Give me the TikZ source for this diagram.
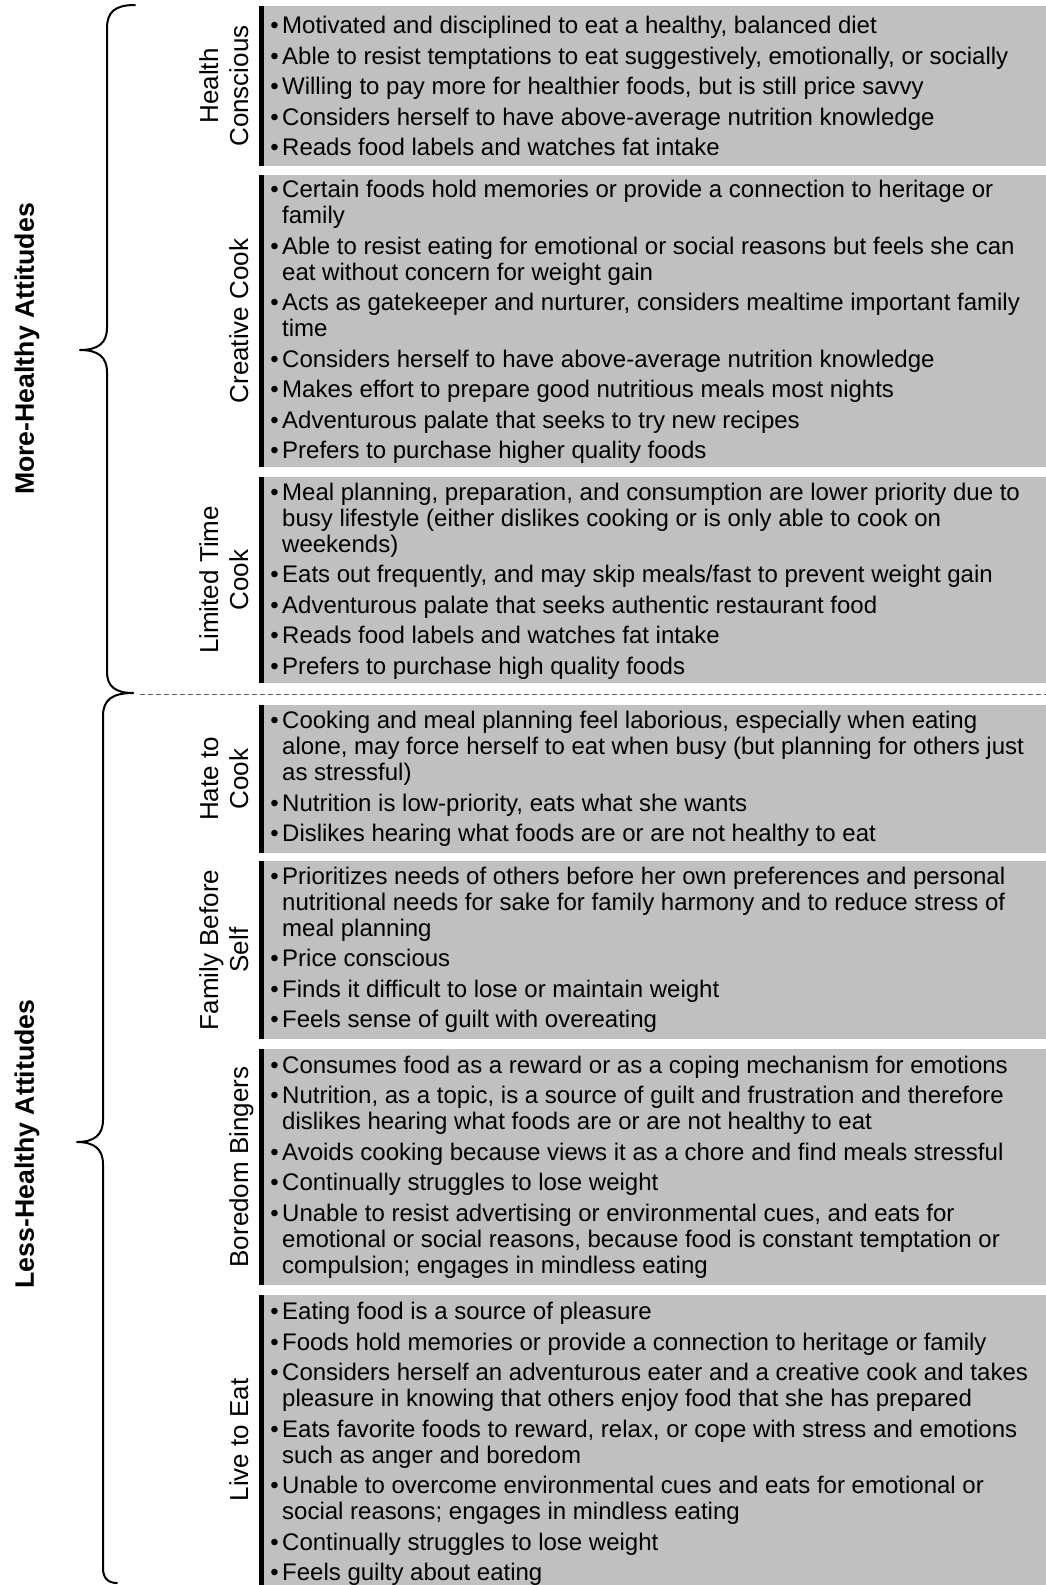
\documentclass[tikz,border=0pt]{standalone}
\usepackage{fontspec}
\setmainfont{Liberation Sans}
\definecolor{cellgray}{RGB}{192,192,192}
\definecolor{dashgray}{RGB}{90,90,90}
\newcommand\bu{\makebox[0pt][r]{\textbullet\hspace{3.5pt}}}
\newcommand\twol[2]{\begin{tabular}[b]{@{}c@{}}#1\\#2\end{tabular}}
\tikzset{
  cell/.style={fill=cellgray},
  bar/.style={fill=black},
  body/.style={anchor=west, inner sep=0pt, align=left, font=\fontsize{24}{26}\selectfont},
  side/.style={rotate=90, anchor=base, inner sep=0pt, font=\fontsize{26}{30}\selectfont},
  group/.style={rotate=90, anchor=base, inner sep=0pt, font=\bfseries\fontsize{26.67}{30}\selectfont},
  brace/.style={line width=2pt, line cap=round, line join=round},
  divider/.style={dashgray, line width=1pt, dash pattern=on 5pt off 3pt}
}
\begin{document}
\begin{tikzpicture}[x=1pt,y=-1pt]
\useasboundingbox (0,0) rectangle (1046,1585);
% rows: gray cells with black left bars
\foreach \t/\b in {6/166,175/467,477/683,705/853,861/1039,1049/1285,1295/1585}{
  \fill[cell] (263.5,\t) rectangle (1046,\b);
  \fill[bar] (258.5,\t) rectangle (263.5,\b);
}
% side labels
\node[side] (lhc) at (248,86) {\twol{Health}{Conscious}};
\node[side] (lcc) at (248,321) {Creative Cook};
\node[side] (ltc) at (248,580) {\twol{Limited Time}{Cook}};
\node[side] (lhk) at (248,779) {\twol{Hate to}{Cook}};
\node[side] (lfs) at (248,950) {\twol{Family Before}{Self}};
\node[side] (lbb) at (248,1167) {Boredom Bingers};
\node[side] (lle) at (248,1440) {Live to Eat};
% body texts
\node[body] (thc) at (282,86) {%
\bu Motivated and disciplined to eat a healthy, balanced diet\\[4.5pt]
\bu Able to resist temptations to eat suggestively, emotionally, or socially\\[4.5pt]
\bu Willing to pay more for healthier foods, but is still price savvy\\[4.5pt]
\bu Considers herself to have above-average nutrition knowledge\\[4.5pt]
\bu Reads food labels and watches fat intake};
\node[body] (tcc) at (282,322) {%
\bu Certain foods hold memories or provide a connection to heritage or\\
family\\[4.5pt]
\bu Able to resist eating for emotional or social reasons but feels she can\\
eat without concern for weight gain\\[4.5pt]
\bu Acts as gatekeeper and nurturer, considers mealtime important family\\
time\\[4.5pt]
\bu Considers herself to have above-average nutrition knowledge\\[4.5pt]
\bu Makes effort to prepare good nutritious meals most nights\\[4.5pt]
\bu Adventurous palate that seeks to try new recipes\\[4.5pt]
\bu Prefers to purchase higher quality foods};
\node[body] (ttc) at (282,581) {%
\bu Meal planning, preparation, and consumption are lower priority due to\\
busy lifestyle (either dislikes cooking or is only able to cook on\\
weekends)\\[4.5pt]
\bu Eats out frequently, and may skip meals/fast to prevent weight gain\\[4.5pt]
\bu Adventurous palate that seeks authentic restaurant food\\[4.5pt]
\bu Reads food labels and watches fat intake\\[4.5pt]
\bu Prefers to purchase high quality foods};
\node[body] (thk) at (282,779) {%
\bu Cooking and meal planning feel laborious, especially when eating\\
alone, may force herself to eat when busy (but planning for others just\\
as stressful)\\[4.5pt]
\bu Nutrition is low-priority, eats what she wants\\[4.5pt]
\bu Dislikes hearing what foods are or are not healthy to eat};
\node[body] (tfs) at (282,950) {%
\bu Prioritizes needs of others before her own preferences and personal\\
nutritional needs for sake for family harmony and to reduce stress of\\
meal planning\\[4.5pt]
\bu Price conscious\\[4.5pt]
\bu Finds it difficult to lose or maintain weight\\[4.5pt]
\bu Feels sense of guilt with overeating};
\node[body] (tbb) at (282,1167) {%
\bu Consumes food as a reward or as a coping mechanism for emotions\\[4.5pt]
\bu Nutrition, as a topic, is a source of guilt and frustration and therefore\\
dislikes hearing what foods are or are not healthy to eat\\[4.5pt]
\bu Avoids cooking because views it as a chore and find meals stressful\\[4.5pt]
\bu Continually struggles to lose weight\\[4.5pt]
\bu Unable to resist advertising or environmental cues, and eats for\\
emotional or social reasons, because food is constant temptation or\\
compulsion; engages in mindless eating};
\node[body] (tle) at (282,1444) {%
\bu Eating food is a source of pleasure\\[4.5pt]
\bu Foods hold memories or provide a connection to heritage or family\\[4.5pt]
\bu Considers herself an adventurous eater and a creative cook and takes\\
pleasure in knowing that others enjoy food that she has prepared\\[4.5pt]
\bu Eats favorite foods to reward, relax, or cope with stress and emotions\\
such as anger and boredom\\[4.5pt]
\bu Unable to overcome environmental cues and eats for emotional or\\
social reasons; engages in mindless eating\\[4.5pt]
\bu Continually struggles to lose weight\\[4.5pt]
\bu Feels guilty about eating};
% group labels
\node[group] (gmore) at (34,349) {More-Healthy Attitudes};
\node[group] (gless) at (34,1144) {Less-Healthy Attitudes};
% braces
\coordinate (joint) at (133,693);
\draw[brace] (135,5) .. controls (115,5) and (107,12) .. (107,28) -- (107,328)
  .. controls (107,343) and (98,350) .. (80,350)
  .. controls (98,350) and (107,357) .. (107,372) -- (107,672)
  .. controls (107,686) and (115,693) .. (joint);
\draw[brace] (joint) .. controls (112,693) and (103,700) .. (103,716) -- (103,1120)
  .. controls (103,1135) and (94,1142) .. (77,1142)
  .. controls (94,1142) and (103,1149) .. (103,1164) -- (103,1568)
  .. controls (103,1578) and (108,1583) .. (117,1583);
% divider
\coordinate (dstart) at (140,694);
\coordinate (dend) at (1046,694);
\draw[divider] (dstart) -- (dend);
\end{tikzpicture}
\end{document}
